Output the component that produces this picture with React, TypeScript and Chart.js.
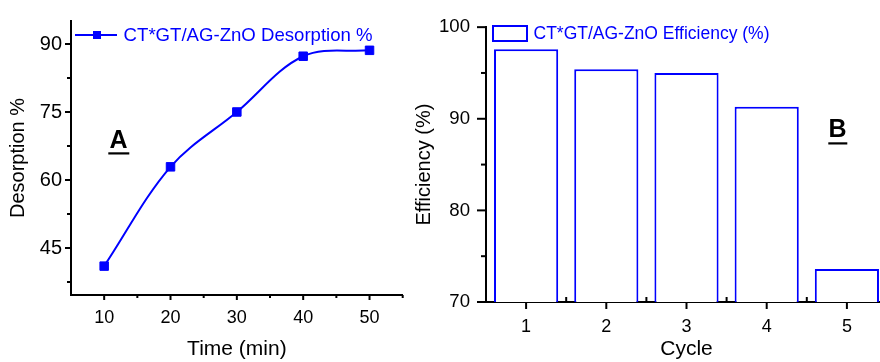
import React, { useEffect, useRef } from 'react';
import { Chart, registerables } from 'chart.js';

Chart.register(...registerables);

const FONT = "'Liberation Sans', Arial, sans-serif";
const BLUE = '#0000FF';

// ---- Panel A data ----
const timeMin = [10, 20, 30, 40, 50];
const desorption = [41.0, 62.9, 75.0, 87.3, 88.6];
const timeTicks = [10, 20, 30, 40, 50];
const timeMinorTicks = [15, 25, 35, 45, 55];
const desorptionTicks = [45, 60, 75, 90];
const desorptionMinorTicks = [37.5, 52.5, 67.5, 82.5];

// ---- Panel B data ----
const cycles = [1, 2, 3, 4, 5];
const efficiency = [97.6, 95.4, 95.0, 91.3, 73.6];
const cycleTicks = [1, 2, 3, 4, 5];
const cycleMinorTicks = [1.5, 2.5, 3.5, 4.5];
const efficiencyTicks = [70, 80, 90, 100];
const efficiencyMinorTicks = [75, 85, 95];

type TickSpec = { axis: string; values: number[]; dir: 'in' | 'out'; len: number };

function makeTickPlugin(id: string, specs: TickSpec[]) {
  return {
    id,
    afterDraw(chart: any) {
      const ctx = chart.ctx;
      ctx.save();
      ctx.strokeStyle = '#000';
      ctx.lineWidth = 2;
      for (const s of specs) {
        const scale = chart.scales[s.axis];
        for (const v of s.values) {
          const p = scale.getPixelForValue(v);
          ctx.beginPath();
          if (scale.isHorizontal()) {
            const y0 = scale.top;
            ctx.moveTo(p, y0);
            ctx.lineTo(p, s.dir === 'out' ? y0 + s.len : y0 - s.len);
          } else {
            const x0 = scale.right;
            ctx.moveTo(x0, p);
            ctx.lineTo(s.dir === 'out' ? x0 - s.len : x0 + s.len, p);
          }
          ctx.stroke();
        }
      }
      ctx.restore();
    },
  };
}

function makePanelLabel(id: string, text: string, cx: number, baseline: number, ux0: number, ux1: number, uy: number) {
  return {
    id,
    afterDraw(chart: any) {
      const ctx = chart.ctx;
      ctx.save();
      ctx.fillStyle = '#000';
      ctx.font = `bold 25px ${FONT}`;
      ctx.textAlign = 'center';
      ctx.textBaseline = 'alphabetic';
      ctx.fillText(text, cx, baseline);
      ctx.fillRect(ux0, uy, ux1 - ux0, 2.2);
      ctx.restore();
    },
  };
}

function setTicks(values: number[]) {
  return (scale: any) => {
    scale.ticks = values.map((v) => ({ value: v }));
  };
}

function tickOpts(fontSize: number, padding: number) {
  return {
    font: { family: FONT, size: fontSize },
    color: '#000',
    autoSkip: false,
    maxRotation: 0,
    padding,
  };
}

const noGrid = { display: false, drawTicks: false, offset: false };
const axisBorder = { display: true, color: '#000', width: 2 };

function legendImageA() {
  const c = document.createElement('canvas');
  c.width = 64;
  c.height = 14;
  const ctx = c.getContext('2d')!;
  ctx.fillStyle = BLUE;
  ctx.fillRect(1, 5, 42, 2);
  ctx.fillRect(19, 2, 8, 8);
  return c;
}

function legendImageB() {
  const c = document.createElement('canvas');
  c.width = 60;
  c.height = 20;
  const ctx = c.getContext('2d')!;
  ctx.fillStyle = '#fff';
  ctx.fillRect(4, 1, 36, 17);
  ctx.strokeStyle = BLUE;
  ctx.lineWidth = 2;
  ctx.strokeRect(5, 2, 34, 15);
  return c;
}

export default function App() {
  const refA = useRef<HTMLCanvasElement>(null);
  const refB = useRef<HTMLCanvasElement>(null);

  useEffect(() => {
    const a = new Chart(refA.current!, {
      type: 'line',
      data: {
        datasets: [
          {
            label: 'CT*GT/AG-ZnO Desorption %',
            data: timeMin.map((x, i) => ({ x, y: desorption[i] })),
            borderColor: BLUE,
            backgroundColor: BLUE,
            borderWidth: 2,
            pointStyle: 'rect',
            pointRadius: 6,
            pointBorderWidth: 1,
            pointBackgroundColor: BLUE,
            pointBorderColor: BLUE,
            tension: 0.35,
            fill: false,
          },
        ],
      },
      options: {
        responsive: false,
        animation: false,
        layout: { padding: { left: 0, right: 7.3, top: 21, bottom: 0 } },
        plugins: {
          tooltip: { enabled: false },
          legend: {
            position: 'chartArea',
            align: 'start',
            labels: {
              usePointStyle: true,
              pointStyle: legendImageA(),
              pointStyleWidth: 16.6,
              padding: 26.7,
              color: BLUE,
              font: { family: FONT, size: 18.6 },
            },
          },
        },
        scales: {
          x: {
            type: 'linear',
            min: 5,
            max: 55,
            afterBuildTicks: setTicks(timeTicks),
            afterFit: (s: any) => {
              s.height = 67;
            },
            grid: noGrid,
            border: axisBorder,
            ticks: tickOpts(18, 12),
            title: {
              display: true,
              text: 'Time (min)',
              color: '#000',
              font: { family: FONT, size: 21 },
              padding: { top: 0, bottom: 0 },
            },
          },
          y: {
            type: 'linear',
            min: 34.63,
            max: 95.07,
            afterBuildTicks: setTicks(desorptionTicks),
            afterFit: (s: any) => {
              s.width = 71;
            },
            grid: noGrid,
            border: axisBorder,
            ticks: tickOpts(20, 9),
            title: {
              display: true,
              text: 'Desorption %',
              color: '#000',
              font: { family: FONT, size: 20 },
              padding: { top: 6.3, bottom: 0 },
            },
          },
        },
      } as any,
      plugins: [
        makeTickPlugin('ticksA', [
          { axis: 'x', values: timeTicks, dir: 'out', len: 5 },
          { axis: 'x', values: timeMinorTicks, dir: 'out', len: 3 },
          { axis: 'y', values: desorptionTicks, dir: 'out', len: 6 },
          { axis: 'y', values: desorptionMinorTicks, dir: 'out', len: 4 },
        ]),
        makePanelLabel('labelA', 'A', 118.5, 148, 108.3, 129.3, 152.3),
      ],
    });

    const b = new Chart(refB.current!, {
      type: 'bar',
      data: {
        datasets: [
          {
            label: 'CT*GT/AG-ZnO Efficiency (%)',
            data: cycles.map((x, i) => ({ x, y: efficiency[i] })),
            backgroundColor: '#fff',
            borderColor: BLUE,
            borderWidth: 2,
            barPercentage: 0.8,
            categoryPercentage: 1,
          },
        ],
      },
      options: {
        responsive: false,
        animation: false,
        layout: { padding: { left: 0, right: 3, top: 23, bottom: 0 } },
        plugins: {
          tooltip: { enabled: false },
          legend: {
            position: 'chartArea',
            align: 'start',
            labels: {
              usePointStyle: true,
              pointStyle: legendImageB(),
              pointStyleWidth: 13.5,
              padding: 25.25,
              color: BLUE,
              font: { family: FONT, size: 17.5 },
            },
          },
        },
        scales: {
          x: {
            type: 'linear',
            min: 0.5,
            max: 5.5,
            offset: false,
            afterBuildTicks: setTicks(cycleTicks),
            afterFit: (s: any) => {
              s.height = 60;
            },
            grid: noGrid,
            border: axisBorder,
            ticks: tickOpts(18, 14.7),
            title: {
              display: true,
              text: 'Cycle',
              color: '#000',
              font: { family: FONT, size: 21 },
              padding: { top: 0, bottom: 0 },
            },
          },
          y: {
            type: 'linear',
            min: 70,
            max: 100,
            afterBuildTicks: setTicks(efficiencyTicks),
            afterFit: (s: any) => {
              s.width = 76;
            },
            grid: noGrid,
            border: axisBorder,
            ticks: tickOpts(18.6, 16),
            title: {
              display: true,
              text: 'Efficiency (%)',
              color: '#000',
              font: { family: FONT, size: 20 },
              padding: { top: 2, bottom: 0 },
            },
          },
        },
      } as any,
      plugins: [
        makeTickPlugin('ticksB', [
          { axis: 'x', values: cycleTicks, dir: 'out', len: 7 },
          { axis: 'x', values: cycleMinorTicks, dir: 'in', len: 5 },
          { axis: 'y', values: efficiencyTicks, dir: 'out', len: 9 },
          { axis: 'y', values: efficiencyMinorTicks, dir: 'out', len: 5 },
        ]),
        makePanelLabel('labelB', 'B', 427.5, 136.7, 418.3, 437.3, 142.3),
      ],
    });

    return () => {
      a.destroy();
      b.destroy();
    };
  }, []);

  return (
    <div
      style={{
        position: 'fixed',
        left: 0,
        top: 0,
        width: 880,
        height: 362,
        overflow: 'hidden',
        background: '#fff',
      }}
    >
      <canvas ref={refA} width={410} height={362} style={{ position: 'absolute', left: 0, top: 0 }} />
      <canvas ref={refB} width={480} height={362} style={{ position: 'absolute', left: 410, top: 0 }} />
    </div>
  );
}
